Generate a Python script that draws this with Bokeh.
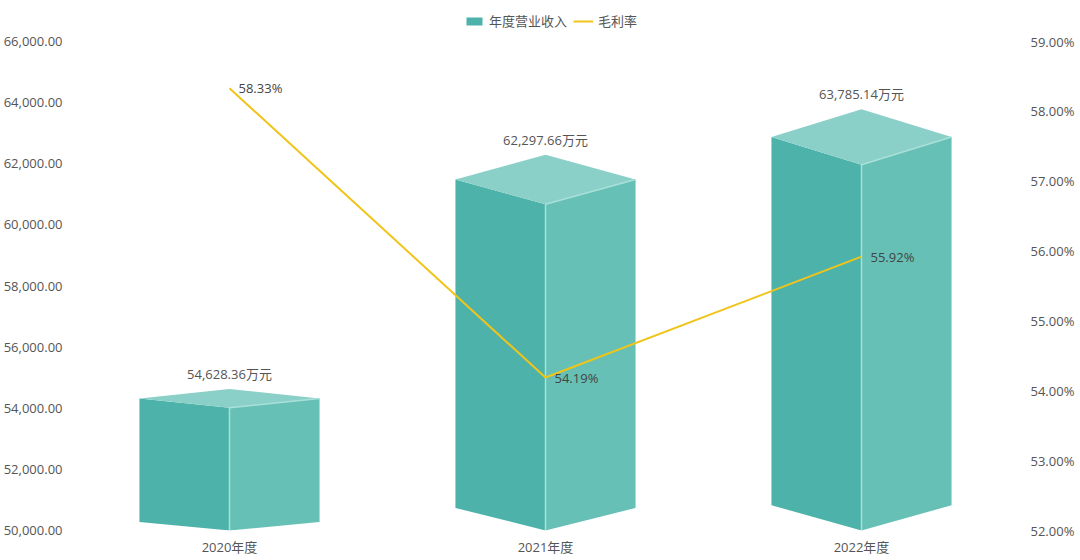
from bokeh.plotting import figure
from bokeh.models import (Range1d, LinearAxis, FixedTicker, NumeralTickFormatter,
                          PrintfTickFormatter, Legend, LegendItem)
from bokeh.embed import file_html
from bokeh.resources import INLINE
from bokeh.core.properties import value

# ---- data ----
categories = ["2020年度", "2021年度", "2022年度"]
revenue = [54628.36, 62297.66, 63785.14]
gross_margin = [58.33, 54.19, 55.92]
revenue_labels = ["54,628.36万元", "62,297.66万元", "63,785.14万元"]
margin_labels = ["58.33%", "54.19%", "55.92%"]
left_ticks = [50000, 52000, 54000, 56000, 58000, 60000, 62000, 64000, 66000]
right_ticks = [52, 53, 54, 55, 56, 57, 58, 59]

# ---- style ----
BASE = 50000
FONT = "'Open Sans', 'Noto Sans CJK SC', sans-serif"
LATIN_FONT = "Open Sans"
LEFT_C = "#4db3aa"
RIGHT_C = "#66c0b6"
TOP_C = "#8bd0c8"
EDGE_C = "#a9e0d9"
LINE_C = "#f0c419"
HALF_W = 0.285
TOP_K = 0.066
BOT_K = 0.06

# room above the axes' top tick (used for the legend), as a fraction of the axis span
HEAD = 41.0 / 489.0

centers = [i + 0.5 for i in range(len(categories))]

l_lo, l_hi = left_ticks[0], left_ticks[-1]
r_lo, r_hi = right_ticks[0], right_ticks[-1]

p = figure(width=1078, height=558, x_range=Range1d(0, len(categories)),
           y_range=Range1d(l_lo, l_hi + HEAD * (l_hi - l_lo)),
           output_backend="svg", toolbar_location=None,
           min_border_left=70, min_border_right=59, min_border_top=0,
           min_border_bottom=20)
p.extra_y_ranges = {"rate": Range1d(r_lo, r_hi + HEAD * (r_hi - r_lo))}
p.outline_line_color = None
p.xgrid.visible = False
p.ygrid.visible = False

# ---- 3D-ish bars ----
xl, yl, xr, yr, xt, yt = [], [], [], [], [], []
ex0, ey0, ex1, ey1 = [], [], [], []
for c, v in zip(centers, revenue):
    d = TOP_K * (v - BASE)
    db = BOT_K * (v - BASE)
    xl.append([c - HALF_W, c, c, c - HALF_W])
    yl.append([v - d, v - 2 * d, BASE, BASE + db])
    xr.append([c, c + HALF_W, c + HALF_W, c])
    yr.append([v - 2 * d, v - d, BASE + db, BASE])
    xt.append([c - HALF_W, c, c + HALF_W, c])
    yt.append([v - d, v, v - d, v - 2 * d])
    ex0 += [c, c]
    ey0 += [v - 2 * d, v - 2 * d]
    ex1 += [c, c + HALF_W]
    ey1 += [BASE, v - d]

left_r = p.patches(xl, yl, fill_color=LEFT_C, line_color=None)
p.patches(xr, yr, fill_color=RIGHT_C, line_color=None)
p.patches(xt, yt, fill_color=TOP_C, line_color=None)
p.segment(ex0, ey0, ex1, ey1, line_color=EDGE_C, line_width=1.5)

p.text(x=centers, y=revenue, text=revenue_labels, y_offset=-15,
       text_align="center", text_baseline="middle",
       text_font=value(FONT), text_font_size="13px", text_color="#555555")

# ---- line ----
line_r = p.line(centers, gross_margin, y_range_name="rate",
                line_color=LINE_C, line_width=2)
p.text(x=centers, y=gross_margin, text=margin_labels, y_range_name="rate",
       x_offset=9, text_align="left", text_baseline="middle",
       text_font=value(FONT), text_font_size="13px", text_color="#444444")

# ---- axes ----
def style_axis(ax, font=FONT):
    ax.axis_line_color = None
    ax.major_tick_line_color = None
    ax.minor_tick_line_color = None
    ax.major_tick_out = 0
    ax.major_tick_in = 0
    ax.minor_tick_out = 0
    ax.minor_tick_in = 0
    ax.major_label_text_font = font
    ax.major_label_text_font_size = "13px"
    ax.major_label_text_color = "#555555"

p.yaxis.ticker = FixedTicker(ticks=left_ticks)
p.yaxis.formatter = NumeralTickFormatter(format="0,0.00")
p.yaxis.major_label_standoff = 9
style_axis(p.yaxis[0], LATIN_FONT)

right_axis = LinearAxis(y_range_name="rate", ticker=FixedTicker(ticks=right_ticks),
                        formatter=PrintfTickFormatter(format="%.2f%%"))
right_axis.major_label_standoff = 11
style_axis(right_axis, LATIN_FONT)
p.add_layout(right_axis, "right")

p.xaxis.ticker = FixedTicker(ticks=centers)
p.xaxis.major_label_overrides = {c: lab for c, lab in zip(centers, categories)}
p.xaxis.major_label_standoff = 7
style_axis(p.xaxis[0])

# ---- legend ----
legend = Legend(items=[LegendItem(label="年度营业收入", renderers=[left_r]),
                       LegendItem(label="毛利率", renderers=[line_r])],
                orientation="horizontal", location=(393, 500),
                glyph_width=20, glyph_height=10, label_height=14,
                label_standoff=5, spacing=6, padding=2, margin=0,
                border_line_color=None, background_fill_alpha=0,
                label_text_font=FONT, label_text_font_size="13px",
                label_text_color="#555555")
p.add_layout(legend)

open("out.html", "w").write(file_html(p, INLINE))
